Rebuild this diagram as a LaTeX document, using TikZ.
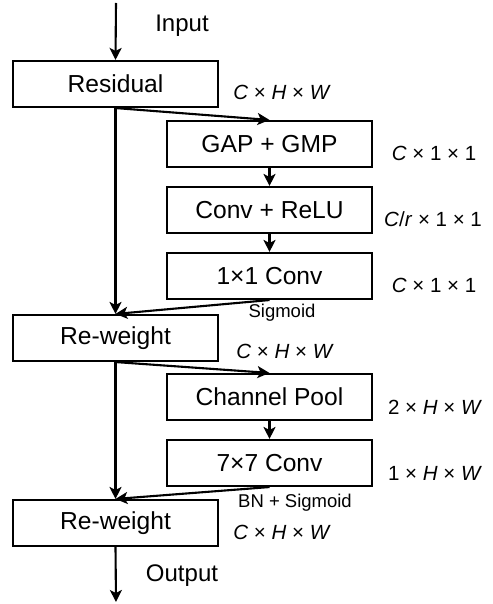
\documentclass[tikz,border=0pt]{standalone}
\usepackage{fontspec}
\setmainfont{Liberation Sans}
\usetikzlibrary{arrows.meta}
\begin{document}
\begin{tikzpicture}[x=1pt,y=-1pt,
  box/.style={draw,line width=2.1pt,minimum width=205pt,minimum height=46pt,inner sep=0pt,font=\fontsize{24.6}{28}\selectfont},
  lbl/.style={inner sep=0pt,font=\fontsize{20.5}{24}\selectfont},
  small/.style={inner sep=0pt,font=\fontsize{18.5}{22}\selectfont},
  big/.style={inner sep=0pt,font=\fontsize{24}{28}\selectfont},
  arr/.style={line width=2.1pt,-{Stealth[length=12pt,width=12pt,inset=3pt]}}]
\useasboundingbox (0,0) rectangle (492,604);
\node[box] (res) at (115.5,84) {Residual};
\node[box] (gap) at (269.5,144) {GAP + GMP};
\node[box] (conv) at (269.5,210) {Conv + ReLU};
\node[box] (c11) at (269.5,276) {1×1 Conv};
\node[box] (rw1) at (115.5,338) {Re-weight};
\node[box] (cp) at (269.5,397) {Channel Pool};
\node[box] (c77) at (269.5,463) {7×7 Conv};
\node[box] (rw2) at (115.5,523) {Re-weight};
\coordinate (in) at (116,3);
\coordinate (out) at (116,602);
\node[big] (tin) at (182,26) {Input};
\node[big] (tout) at (182,576) {Output};
\node[lbl] (d1) at (282,92) {\textit{C} × \textit{H} × \textit{W}};
\node[lbl] (d2) at (434,153) {\textit{C} × 1 × 1};
\node[lbl] (d3) at (433,219) {\textit{C}/\textit{r} × 1 × 1};
\node[lbl] (d4) at (434,285) {\textit{C} × 1 × 1};
\node[small] (sg) at (282,313) {Sigmoid};
\node[lbl] (d5) at (285,351) {\textit{C} × \textit{H} × \textit{W}};
\node[lbl] (d6) at (435,407) {2 × \textit{H} × \textit{W}};
\node[lbl] (d7) at (435,473) {1 × \textit{H} × \textit{W}};
\node[small] (bs) at (295,503) {BN + Sigmoid};
\node[lbl] (d8) at (282,532) {\textit{C} × \textit{H} × \textit{W}};
\draw[arr] (in) -- (res.north);
\draw[arr] (res.south) -- (rw1.north);
\draw[arr] (res.south) -- (gap.north);
\draw[arr] (gap) -- (conv);
\draw[arr] (conv) -- (c11);
\draw[arr] (c11.south) -- (rw1.north);
\draw[arr] (rw1.south) -- (rw2.north);
\draw[arr] (rw1.south) -- (cp.north);
\draw[arr] (cp) -- (c77);
\draw[arr] (c77.south) -- (rw2.north);
\draw[arr] (rw2.south) -- (out);
\end{tikzpicture}
\end{document}
